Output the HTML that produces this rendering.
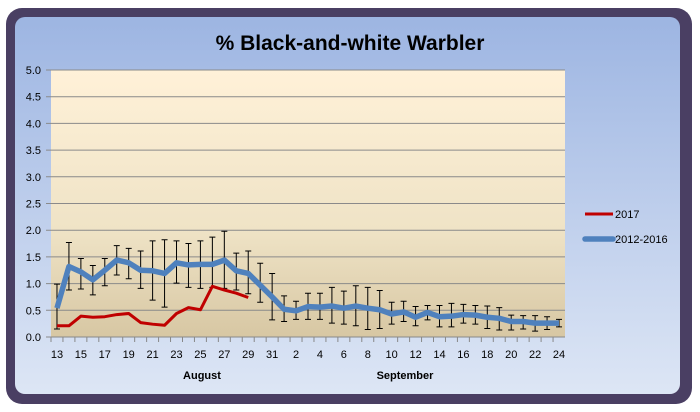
<!DOCTYPE html>
<html><head><meta charset="utf-8"><style>
html,body{margin:0;padding:0;background:#fff;width:700px;height:412px;overflow:hidden}
svg{display:block;font-family:"Liberation Sans",Arial,sans-serif}
</style></head><body>
<svg id="chart" width="700" height="412" viewBox="0 0 700 412">
<defs>
<linearGradient id="bg" x1="0" y1="0" x2="0" y2="1"><stop offset="0" stop-color="#9db5e2"/><stop offset="1" stop-color="#dde6f5"/></linearGradient>
<linearGradient id="pa" x1="0" y1="0" x2="0" y2="1"><stop offset="0" stop-color="#fff1d8"/><stop offset="0.6" stop-color="#efe3c6"/><stop offset="1" stop-color="#d7c7a3"/></linearGradient>
</defs>
<rect x="6" y="8" width="686" height="396" rx="16" fill="#4a3f63"/>
<rect x="15" y="17" width="665" height="377" rx="10" fill="url(#bg)"/>
<text x="350" y="50" text-anchor="middle" font-size="21" font-weight="bold" fill="#000">% Black-and-white Warbler</text>
<rect x="51" y="70" width="514" height="267" fill="url(#pa)"/>
<g id="grid"></g><g id="axes"></g><g id="errs"></g><g id="lines"></g>
<text x="202" y="379" text-anchor="middle" font-size="11" font-weight="bold">August</text>
<text x="405" y="379" text-anchor="middle" font-size="11" font-weight="bold">September</text>
<g>
<line x1="585" y1="214" x2="613" y2="214" stroke="#c00000" stroke-width="3"/>
<text x="615" y="218" font-size="11">2017</text>
<line x1="585" y1="239" x2="613" y2="239" stroke="#4f81bd" stroke-width="5.5" stroke-linecap="round"/>
<text x="615" y="243" font-size="11">2012-2016</text>
</g>
</svg>
<script>
const categories=["13","14","15","16","17","18","19","20","21","22","23","24","25","26","27","28","29","30","31","1","2","3","4","5","6","7","8","9","10","11","12","13","14","15","16","17","18","19","20","21","22","23","24"];
const avgValues=[0.54,1.32,1.22,1.07,1.25,1.44,1.39,1.25,1.24,1.19,1.39,1.35,1.36,1.36,1.44,1.24,1.19,0.97,0.75,0.52,0.49,0.57,0.56,0.58,0.54,0.58,0.54,0.51,0.43,0.47,0.37,0.46,0.38,0.39,0.42,0.41,0.37,0.35,0.29,0.29,0.26,0.26,0.26];
const errHigh=[0.99,1.77,1.47,1.34,1.47,1.71,1.66,1.61,1.80,1.82,1.80,1.75,1.80,1.87,1.98,1.57,1.61,1.38,1.19,0.77,0.67,0.82,0.82,0.93,0.86,0.96,0.93,0.87,0.65,0.67,0.57,0.59,0.59,0.63,0.61,0.59,0.58,0.55,0.41,0.40,0.40,0.38,0.33];
const errLow=[0.15,0.88,0.90,0.79,0.96,1.16,1.09,0.91,0.69,0.56,1.01,0.93,0.91,0.93,0.91,0.88,0.81,0.65,0.32,0.29,0.33,0.33,0.33,0.26,0.24,0.21,0.14,0.16,0.24,0.29,0.21,0.32,0.19,0.19,0.26,0.24,0.16,0.13,0.13,0.15,0.11,0.14,0.19];
const values2017=[0.21,0.21,0.39,0.37,0.38,0.42,0.44,0.27,0.24,0.22,0.44,0.55,0.51,0.95,0.88,0.82,0.74];
const yTicks=["0.0","0.5","1.0","1.5","2.0","2.5","3.0","3.5","4.0","4.5","5.0"];
const NS="http://www.w3.org/2000/svg";
const L=51,R=565,T=70,B=337,yMax=5;
const step=(R-L)/categories.length;
const x=i=>L+step*(i+0.5);
const y=v=>B-(v/yMax)*(B-T);
function mk(tag,attrs,parent){const e=document.createElementNS(NS,tag);for(const k in attrs)e.setAttribute(k,attrs[k]);document.getElementById(parent).appendChild(e);return e;}
yTicks.forEach(t=>{const v=parseFloat(t);
 const g=mk('line',{x1:L-5,x2:R,y1:y(v),y2:y(v),stroke:'#8a8a8a','stroke-width':1},'grid');
 
 
 const tx=mk('text',{x:41,y:y(v)+4,'text-anchor':'end','font-size':11},'axes');tx.textContent=t;
 
 
});
const xa=mk('line',{x1:L,x2:R,y1:B,y2:B,stroke:'#888'},'axes');


categories.forEach((c,i)=>{
 const tk=mk('line',{x1:L+step*i,x2:L+step*i,y1:B,y2:B+5,stroke:'#888'},'axes');
 
 
 if(i%2===0){const t=mk('text',{x:x(i),y:B+21,'text-anchor':'middle','font-size':11},'axes');t.textContent=c;
 
 }
});
avgValues.forEach((v,i)=>{
 const h=y(errHigh[i]),l=y(errLow[i]),xx=x(i);
 const p=mk('path',{d:`M${xx},${h}V${l}M${xx-3},${h}H${xx+3}M${xx-3},${l}H${xx+3}`,stroke:'#000','stroke-width':1,fill:'none'},'errs');
 
 
});
const avg=mk('polyline',{points:avgValues.map((v,i)=>x(i)+','+y(v)).join(' '),fill:'none',stroke:'#4f81bd','stroke-width':5.5,'stroke-linejoin':'round'},'lines');


const r=mk('polyline',{points:values2017.map((v,i)=>x(i)+','+y(v)).join(' '),fill:'none',stroke:'#c00000','stroke-width':3,'stroke-linejoin':'round'},'lines');


</script>
</body></html>
